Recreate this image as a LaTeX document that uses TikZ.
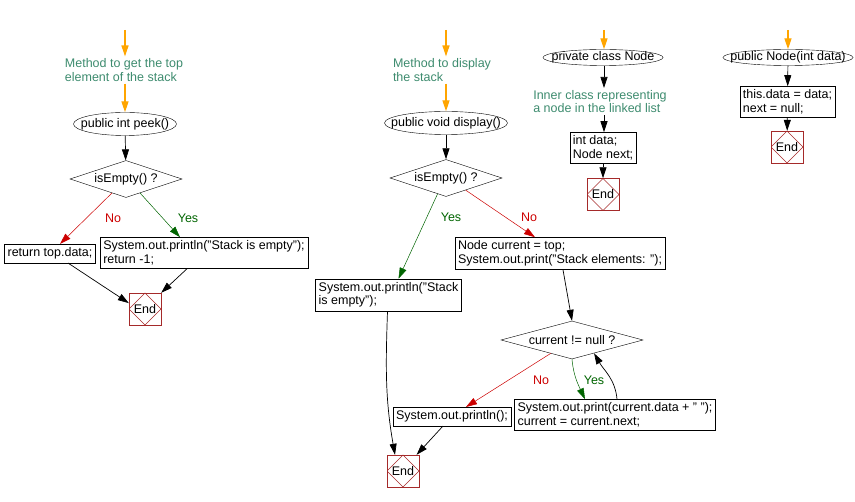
\documentclass[tikz,border=0pt]{standalone}
\usepackage{fontspec}
\setmainfont{Liberation Sans}
\definecolor{NoteGreen}{HTML}{3D8B6E}
\definecolor{EndRed}{HTML}{A52A2A}
\definecolor{NoRed}{HTML}{CC0000}
\definecolor{YesGreen}{HTML}{006400}
\definecolor{FlowOrange}{HTML}{FFA500}
\usetikzlibrary{positioning, arrows.meta, shapes.geometric, calc}

\begin{document}
\begin{tikzpicture}[
  x=1pt, y=-1pt,
  font=\fontsize{12.5}{13.5}\selectfont,
  term/.style={draw, ellipse, inner xsep=-30pt, inner ysep=-8pt,
               minimum height=23pt},
  smallterm/.style={term, minimum height=16pt},
  decide/.style={draw, diamond, aspect=3, inner sep=0pt, minimum height=37pt},
  proc/.style={draw, align=left, inner xsep=3pt, inner ysep=3.5pt},
  note/.style={text=NoteGreen, align=left, inner sep=2pt},
  stopbox/.style={draw=EndRed, minimum size=32pt, inner sep=0pt,
                  path picture={\draw[EndRed] (path picture bounding box.north)
                    -- (path picture bounding box.east) -- (path picture bounding box.south)
                    -- (path picture bounding box.west) -- cycle;}},
  arr/.style={-{Triangle[length=11pt,width=7pt]}, line width=0.7pt},
  hint/.style={arr, draw=FlowOrange, line width=1.4pt},
  noarr/.style={arr, draw=NoRed, line width=0.5pt},
  yesarr/.style={arr, draw=YesGreen, line width=0.5pt},
  nolbl/.style={text=NoRed},
  yeslbl/.style={text=YesGreen}
]
  \useasboundingbox (0,0) rectangle (855,502);

  % Column 1: peek()
  \coordinate (in1) at (125,30);
  \node[note] (cmt1) at (124,70) {Method to get the top\\element of the stack};
  \node[term, minimum width=103pt] (peek) at (125,124) {public int peek()};
  \node[decide, minimum width=112pt] (emp1q) at (126,179) {isEmpty() ?};
  \node[proc] (ret) at (50,253.5) {return top.data;};
  \node[proc] (emp1) at (204,253) {System.out.println("Stack is empty");\\return -1;};
  \node[stopbox] (end1) at (145,309) {End};
  \node[nolbl] (no1) at (113,218) {No};
  \node[yeslbl] (yes1) at (188,218) {Yes};

  \draw[hint] (in1) -- (in1 |- cmt1.north);
  \draw[hint] (in1 |- cmt1.south) -- (peek.north);
  \draw[arr] (peek) -- (emp1q);
  \draw[noarr] ($(emp1q.south)!0.25!(emp1q.west)$) -- ($(ret.north)+(10,0)$);
  \draw[yesarr] ($(emp1q.south)!0.25!(emp1q.east)$) -- ($(emp1.north)+(-24,0)$);
  \draw[arr] ($(ret.south)+(18,0)$) -- (end1.160);
  \draw[arr] ($(emp1.south)+(-17,0)$) -- (end1.45);

  % Column 2: display()
  \coordinate (in2) at (446,30);
  \node[note] (cmt2) at (442,70) {Method to display\\the stack};
  \node[term, minimum width=123pt] (disp) at (446,123) {public void display()};
  \node[decide, minimum width=112pt] (emp2q) at (446,178) {isEmpty() ?};
  \node[proc] (emp2) at (388.5,295) {System.out.println("Stack\\is empty");};
  \node[proc] (cur) at (560,253.5) {Node current = top;\\System.out.print("Stack elements: ");};
  \node[decide, minimum width=142pt] (loopq) at (572,340) {current != null ?};
  \node[proc] (pln) at (452,416.5) {System.out.println();};
  \node[proc] (prt) at (615,415) {System.out.print(current.data + " ");\\current = current.next;};
  \node[stopbox] (end2) at (403,471) {End};
  \node[yeslbl] (yes2) at (451,217) {Yes};
  \node[nolbl] (no2) at (529,217) {No};
  \node[nolbl] (no3) at (541,380) {No};
  \node[yeslbl] (yes3) at (594,380) {Yes};

  \draw[hint] (in2) -- (in2 |- cmt2.north);
  \draw[hint] (in2 |- cmt2.south) -- (disp.north);
  \draw[arr] (disp) -- (emp2q);
  \draw[yesarr] ($(emp2q.south)!0.15!(emp2q.west)$) -- ($(emp2.north)+(10,0)$);
  \draw[noarr] ($(emp2q.south)!0.35!(emp2q.east)$) -- ($(cur.north)+(-25,0)$);
  \draw[arr] ($(cur.south)+(3,0)$) -- (loopq.north);
  \draw[noarr] ($(loopq.south)!0.3!(loopq.west)$) -- ($(pln.north)+(14,0)$);
  \draw[yesarr] (loopq.south) to[out=-85, in=115] ($(prt.north)+(-30,0)$);
  \draw[arr] ($(prt.north)+(2,0)$) to[out=95, in=-60] ($(loopq.south)!0.31!(loopq.east)$);
  \draw[arr] ($(emp2.south)+(-1,0)$) to[out=-92, in=100] ($(end2.north)+(-8,0)$);
  \draw[arr] ($(pln.south)+(-9,0)$) -- (end2.50);

  % Column 3: inner class Node
  \coordinate (in3) at (604,30);
  \node[smallterm, minimum width=120pt] (cls) at (603,57.5) {private class Node};
  \node[note] (cmt3) at (600,101.5) {Inner class representing\\a node in the linked list};
  \node[proc] (fld) at (603,148) {int data;\\Node next;};
  \node[stopbox] (end3) at (603,194.5) {End};

  \draw[hint] (in3) -- (in3 |- cls.north);
  \draw[arr] (in3 |- cls.south) -- (in3 |- cmt3.north);
  \draw[arr] (in3 |- cmt3.south) -- (in3 |- fld.north);
  \draw[arr] (fld) -- (end3);

  % Column 4: constructor
  \coordinate (in4) at (788,30);
  \node[smallterm, minimum width=130pt] (ctor) at (788,57.5) {public Node(int data)};
  \node[proc] (asg) at (787.5,102) {this.data = data;\\next = null;};
  \node[stopbox] (end4) at (787,147) {End};

  \draw[hint] (in4) -- (ctor.north);
  \draw[arr] (ctor) -- (asg);
  \draw[arr] (asg) -- (end4);
\end{tikzpicture}
\end{document}
